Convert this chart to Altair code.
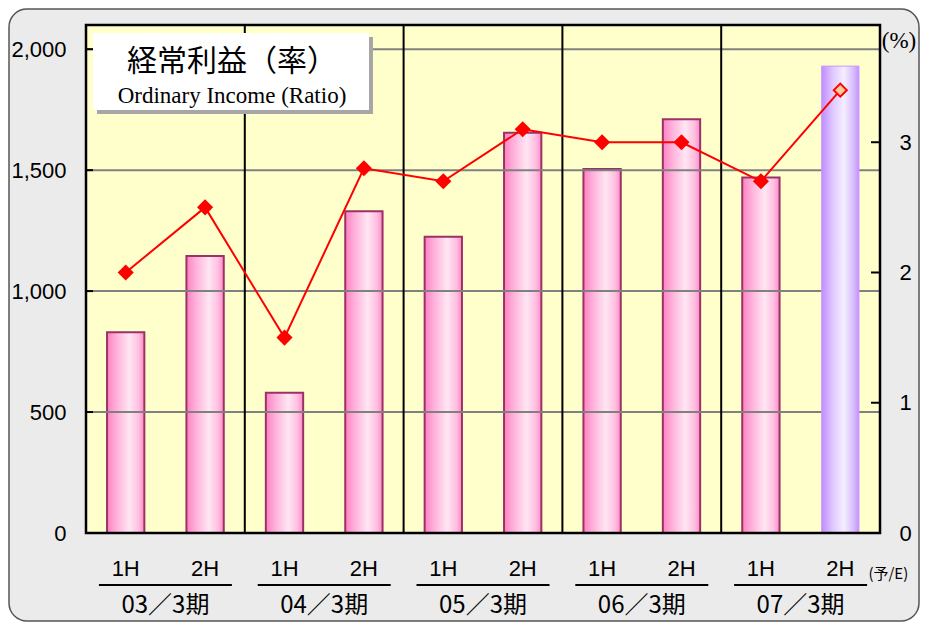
import altair as alt
import pandas as pd

# ---- data ----
years = ["03／3期", "04／3期", "05／3期", "06／3期", "07／3期"]
halves = ["1H", "2H"]
income = [830, 1145, 580, 1330, 1225, 1655, 1505, 1710, 1470, 1930]   # left axis (bars)
ratio = [2.0, 2.5, 1.5, 2.8, 2.7, 3.1, 3.0, 3.0, 2.7, 3.4]          # right axis (%)
estimate = [False] * 9 + [True]
left_ticks = [0, 500, 1000, 1500, 2000]
right_ticks = [0, 1, 2, 3]

cats = [f"{y} {h}" for y in years for h in halves]
df = pd.DataFrame({
    "cat": cats,
    "year": [y for y in years for _ in halves],
    "half": [h for _ in years for h in halves],
    "income": income,
    "ratio": ratio,
    "est": estimate,
})
groups = pd.DataFrame({"year": years})
seps = pd.DataFrame({"year": years[1:]})
one = pd.DataFrame({"k": [0]})

W, H = 794, 508
PI = 0.53
PO = PI / 2

xs = alt.Scale(domain=cats, paddingInner=PI, paddingOuter=PO)
gs = alt.Scale(domain=years, paddingInner=0, paddingOuter=0)
yl = alt.Scale(domain=[0, 2100], nice=False, zero=True)
yr = alt.Scale(domain=[0, 3.9], nice=False, zero=True)

JP = "Noto Sans CJK JP"
SANS = "Liberation Sans"
SERIF = "Liberation Serif"

axL = alt.Axis(orient="left", values=left_ticks, format=",.0f", title=None,
               ticks=False, domain=False, grid=False, labelPadding=20,
               labelFont=SANS, labelFontSize=22, labelColor="black", zindex=2)
axR = alt.Axis(orient="right", values=right_ticks, format=".0f", title=None,
               ticks=False, domain=False, grid=False, labelPadding=19,
               labelFont=SANS, labelFontSize=22, labelColor="black", zindex=2)

pink = {"gradient": "linear", "x1": 0, "x2": 1, "y1": 0, "y2": 0,
        "stops": [{"offset": 0, "color": "#ff80c2"},
                  {"offset": 0.25, "color": "#ffb0da"},
                  {"offset": 0.6, "color": "#ffe6f3"},
                  {"offset": 0.85, "color": "#ffbfe0"},
                  {"offset": 1, "color": "#ff88c8"}]}
purple = {"gradient": "linear", "x1": 0, "x2": 1, "y1": 0, "y2": 0,
          "stops": [{"offset": 0, "color": "#c08cff"},
                    {"offset": 0.3, "color": "#e0c8ff"},
                    {"offset": 0.6, "color": "#f4eeff"},
                    {"offset": 0.85, "color": "#d9bdff"},
                    {"offset": 1, "color": "#c490ff"}]}

frame = alt.Chart(one).mark_rect(fill="#ebebeb", stroke="#555555", strokeWidth=1.5,
                                 cornerRadius=18).encode(
    x=alt.value(-77), x2=alt.value(W + 39), y=alt.value(-16), y2=alt.value(H + 88))

plotbg = alt.Chart(one).mark_rect(fill="#ffffcc").encode(
    x=alt.value(0), x2=alt.value(W), y=alt.value(0), y2=alt.value(H))

grid = alt.Chart(pd.DataFrame({"income": left_ticks[1:]})).mark_rule(
    color="#808080", strokeWidth=2).encode(
    y=alt.Y("income:Q", scale=yl, axis=axL), x=alt.value(0), x2=alt.value(W))

sep = alt.Chart(seps).mark_rule(color="black", strokeWidth=2).encode(
    x=alt.X("year:N", scale=gs, axis=None, bandPosition=0),
    y=alt.value(0), y2=alt.value(H))

bars_pink = alt.Chart(df).transform_filter("!datum.est").mark_bar(
    fill=pink, stroke="#993366", strokeWidth=2).encode(
    x=alt.X("cat:N", scale=xs, axis=None),
    y=alt.Y("income:Q", scale=yl, axis=axL))

bars_purple = alt.Chart(df).transform_filter("datum.est").mark_bar(
    fill=purple, stroke="#cc99ff", strokeWidth=1).encode(
    x=alt.X("cat:N", scale=xs, axis=None),
    y=alt.Y("income:Q", scale=yl, axis=axL))

lticks = alt.Chart(pd.DataFrame({"income": left_ticks})).mark_rule(
    color="black", strokeWidth=2).encode(
    y=alt.Y("income:Q", scale=yl, axis=axL), x=alt.value(0), x2=alt.value(7))

left = alt.layer(bars_pink, grid, bars_purple, lticks)

line = alt.Chart(df).mark_line(color="#ff0000", strokeWidth=2).encode(
    x=alt.X("cat:N", scale=xs, axis=None),
    y=alt.Y("ratio:Q", scale=yr, axis=axR))

pts = alt.Chart(df).transform_filter("!datum.est").mark_point(
    shape="diamond", filled=True, color="#ff0000", size=260, opacity=1).encode(
    x=alt.X("cat:N", scale=xs, axis=None),
    y=alt.Y("ratio:Q", scale=yr, axis=axR))

pt_est = alt.Chart(df).transform_filter("datum.est").mark_point(
    shape="diamond", filled=True, fill="#ffcc99", stroke="#ff0000", strokeWidth=2,
    size=170, opacity=1).encode(
    x=alt.X("cat:N", scale=xs, axis=None),
    y=alt.Y("ratio:Q", scale=yr, axis=axR))

rticks = alt.Chart(pd.DataFrame({"ratio": right_ticks[1:]})).mark_rule(
    color="black", strokeWidth=2).encode(
    y=alt.Y("ratio:Q", scale=yr, axis=axR), x=alt.value(W - 9), x2=alt.value(W))

right = alt.layer(line, pts, pt_est, rticks)

shadow = alt.Chart(one).mark_rect(fill="#a6a6a6").encode(
    x=alt.value(11), x2=alt.value(287), y=alt.value(12), y2=alt.value(89))
box = alt.Chart(one).mark_rect(fill="white").encode(
    x=alt.value(7), x2=alt.value(283), y=alt.value(8), y2=alt.value(85))
title_jp = alt.Chart(one).mark_text(text="経常利益（率）", font=JP, fontSize=30,
                                    color="black", baseline="middle").encode(
    x=alt.value(146), y=alt.value(37))
title_en = alt.Chart(one).mark_text(text="Ordinary Income (Ratio)", font=SERIF,
                                    fontSize=23, color="black", baseline="middle").encode(
    x=alt.value(146), y=alt.value(71))
pct = alt.Chart(one).mark_text(text="(%)", font=SERIF, fontSize=23, color="black",
                               baseline="middle").encode(
    x=alt.value(W + 19), y=alt.value(16))

half_lbl = alt.Chart(df).mark_text(font=SANS, fontSize=22, color="black",
                                   baseline="middle").encode(
    x=alt.X("cat:N", scale=xs, axis=None), y=alt.value(H + 36), text="half:N")

est_lbl = alt.Chart(df).transform_filter("datum.est").mark_text(
    text="(予/E)", font=JP, fontSize=15, color="black", baseline="middle",
    dx=48).encode(x=alt.X("cat:N", scale=xs, axis=None), y=alt.value(H + 41))

uline = alt.Chart(groups).mark_tick(orient="horizontal", size=133, thickness=2,
                                    color="black", opacity=1).encode(
    x=alt.X("year:N", scale=gs, axis=None),
    y=alt.value(H + 52))

year_lbl = alt.Chart(groups).mark_text(font=JP, fontSize=24, color="black",
                                       baseline="middle").encode(
    x=alt.X("year:N", scale=gs, axis=None), y=alt.value(H + 73), text="year:N")

border = alt.Chart(one).mark_rect(fillOpacity=0, stroke="black", strokeWidth=2.5).encode(
    x=alt.value(0), x2=alt.value(W), y=alt.value(0), y2=alt.value(H))

chart = alt.layer(
    frame, plotbg, left, sep, right, shadow, box, title_jp, title_en, pct,
    half_lbl, est_lbl, uline, year_lbl, border
).resolve_scale(x="independent", y="independent").properties(
    width=W, height=H,
    autosize=alt.AutoSizeParams(type="none"),
    padding={"left": 78, "top": 17, "right": 41, "bottom": 89},
).configure_view(stroke=None)

chart.save("out.html", embed_options={"renderer": "svg", "actions": False})
